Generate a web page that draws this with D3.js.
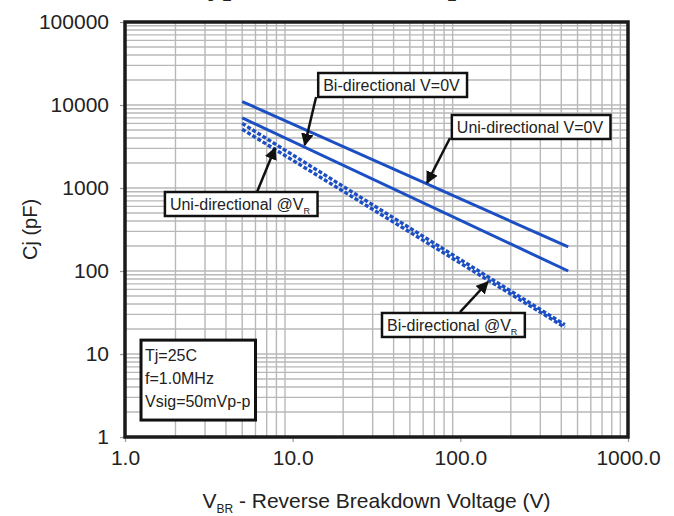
<!DOCTYPE html>
<html>
<head>
<meta charset="utf-8">
<script src="https://cdn.jsdelivr.net/npm/d3@7"></script>
<style>
  body { margin: 0; background: #fff; }
  text { font-family: "Liberation Sans", Arial, sans-serif; fill: #222; }
</style>
</head>
<body>
<div id="chart"></div>
<script>
// chart values
var xTicks = [1, 10, 100, 1000];
var xTickLabels = ["1.0", "10.0", "100.0", "1000.0"];
var yTicks = [1, 10, 100, 1000, 10000, 100000];
var yTickLabels = ["1", "10", "100", "1000", "10000", "100000"];

// each series: [V_BR, Cj] at the two ends of the drawn line
var biZero = [[5, 11000], [440, 195]];
var uniZero = [[5, 7000], [440, 100]];
var uniVR = [[5, 6000], [420, 22.5]];
var biVR = [[5, 5100], [420, 21]];

var seriesNames = ["Bi-directional V=0V", "Uni-directional V=0V", "Uni-directional @VR", "Bi-directional @VR"];
var seriesData = [biZero, uniZero, uniVR, biVR];
var seriesDashed = [false, false, true, true];

// callouts: text, box top-left [V, C], arrow from [V, C] to [V, C]
var callouts = [
  { main: "Bi-directional V=0V", sub: "", box: [14.2, 24300], from: [13.8, 12500], to: [11.8, 3300] },
  { main: "Uni-directional V=0V", sub: "", box: [89, 7580], from: [86.8, 4000], to: [63.3, 1150] },
  { main: "Uni-directional @V", sub: "R", box: [1.73, 895], from: [6.13, 895], to: [7.85, 3030] },
  { main: "Bi-directional @V", sub: "R", box: [34.1, 31.2], from: [99.5, 32], to: [146, 73.7] }
];
var conditions = ["Tj=25C", "f=1.0MHz", "Vsig=50mVp-p"];
var conditionsBox = [1.246, 14.7, 1.6];

var width = 674;
var height = 516;
var margin = { top: 22, right: 46, bottom: 79, left: 125 };

var svg = d3.select("#chart")
  .append("svg")
  .attr("width", width)
  .attr("height", height);

var x = d3.scaleLog().domain([1, 1000]).range([margin.left, width - margin.right]);
var y = d3.scaleLog().domain([1, 100000]).range([height - margin.bottom, margin.top]);

// title, cropped off at the top edge in the source picture
svg.append("text")
  .attr("x", 190)
  .attr("y", -5)
  .style("font-family", "'Liberation Serif', serif")
  .style("font-size", "30px")
  .style("font-weight", "bold")
  .text("Typical Junction Capacitance");

// grid
var xGrid = [];
var yGrid = [];
for (var d = 1; d < 1000; d *= 10) {
  for (var k = 2; k <= 9; k++) xGrid.push(d * k);
}
for (var e = 1; e < 100000; e *= 10) {
  for (var m = 1; m <= 9; m++) yGrid.push(e * m);
}
var grid = svg.append("g").attr("class", "grid");
grid.selectAll(".gx").data(xGrid).enter().append("line")
  .attr("x1", function(d) { return x(d); })
  .attr("x2", function(d) { return x(d); })
  .attr("y1", y(1)).attr("y2", y(100000))
  .attr("stroke", "#b8b8b8").attr("stroke-width", 1.4);
grid.selectAll(".gy").data(yGrid).enter().append("line")
  .attr("y1", function(d) { return y(d); })
  .attr("y2", function(d) { return y(d); })
  .attr("x1", x(1)).attr("x2", x(1000))
  .attr("stroke", "#b8b8b8").attr("stroke-width", 1.4);

// axes
var xAxis = d3.axisBottom(x).tickValues(xTicks)
  .tickFormat(function(d, i) { return xTickLabels[i]; })
  .tickSize(5).tickPadding(8);
var yAxis = d3.axisLeft(y).tickValues(yTicks)
  .tickFormat(function(d, i) { return yTickLabels[i]; })
  .tickSize(5).tickPadding(11);

var gx = svg.append("g")
  .attr("transform", "translate(0," + y(1) + ")")
  .call(xAxis);
var gy = svg.append("g")
  .attr("transform", "translate(" + x(1) + ",0)")
  .call(yAxis);
[gx, gy].forEach(function(g) {
  g.select(".domain").remove();
  g.selectAll(".tick line").attr("stroke", "#999").attr("stroke-width", 1.2);
  g.selectAll(".tick text")
    .style("font-family", "'Liberation Sans', Arial, sans-serif")
    .style("font-size", "21px")
    .attr("fill", "#222");
});

// series lines
var line = d3.line()
  .x(function(d) { return x(d[0]); })
  .y(function(d) { return y(d[1]); });

svg.append("g").selectAll("path")
  .data(seriesData)
  .enter().append("path")
  .attr("d", line)
  .attr("fill", "none")
  .attr("stroke", "#1c4fc4")
  .attr("stroke-width", function(d, i) { return seriesDashed[i] ? 3.4 : 3; })
  .attr("stroke-dasharray", function(d, i) { return seriesDashed[i] ? "4,2" : null; })
  .append("title").text(function(d, i) { return seriesNames[i]; });

// frame
svg.append("rect")
  .attr("x", x(1)).attr("y", y(100000))
  .attr("width", x(1000) - x(1))
  .attr("height", y(1) - y(100000))
  .attr("fill", "none")
  .attr("stroke", "#1a1a1a")
  .attr("stroke-width", 3.5);

// arrow marker
svg.append("defs").append("marker")
  .attr("id", "arrow")
  .attr("viewBox", "0 0 10 10")
  .attr("refX", 9).attr("refY", 5)
  .attr("markerWidth", 5).attr("markerHeight", 5)
  .attr("markerUnits", "strokeWidth")
  .attr("orient", "auto")
  .append("path")
  .attr("d", "M0,0L10,5L0,10z")
  .attr("fill", "#111");

// callouts
var pad = 5;
callouts.forEach(function(c) {
  svg.append("line")
    .attr("x1", x(c.from[0])).attr("y1", y(c.from[1]))
    .attr("x2", x(c.to[0])).attr("y2", y(c.to[1]))
    .attr("stroke", "#111").attr("stroke-width", 2.5)
    .attr("marker-end", "url(#arrow)");

  var g = svg.append("g");
  var bx = x(c.box[0]);
  var by = y(c.box[1]);
  var rect = g.append("rect").attr("fill", "#fff").attr("stroke", "#111").attr("stroke-width", 2.5);
  var t = g.append("text")
    .attr("x", bx + pad)
    .attr("y", by + 18)
    .style("font-size", "16px")
    .text(c.main);
  if (c.sub) {
    t.append("tspan").attr("dy", 4).style("font-size", "9px").text(c.sub);
  }
  var bb = t.node().getBBox();
  rect.attr("x", bx).attr("y", by)
    .attr("width", bb.width + 2 * pad + 2)
    .attr("height", 24);
});

// test conditions box
var cx0 = x(conditionsBox[0]);
var cy0 = y(conditionsBox[1]);
var cy1 = y(conditionsBox[2]);
var cg = svg.append("g");
var crect = cg.append("rect").attr("fill", "#fff").attr("stroke", "#111").attr("stroke-width", 3);
var ctext = cg.selectAll("text").data(conditions).enter().append("text")
  .attr("x", cx0 + 4)
  .attr("y", function(d, i) { return cy0 + 21 + i * 23; })
  .style("font-size", "16px")
  .text(function(d) { return d; });
var cw = d3.max(ctext.nodes(), function(n) { return n.getBBox().width; });
crect.attr("x", cx0).attr("y", cy0).attr("width", cw + 9).attr("height", cy1 - cy0);

// axis titles
svg.append("text")
  .attr("transform", "translate(37," + ((y(1) + y(100000)) / 2) + ") rotate(-90)")
  .attr("text-anchor", "middle")
  .style("font-size", "20px")
  .text("Cj (pF)");

var xt = svg.append("text")
  .attr("x", (x(1) + x(1000)) / 2)
  .attr("y", height - 8)
  .attr("text-anchor", "middle")
  .style("font-size", "21px");
xt.append("tspan").text("V");
xt.append("tspan").attr("dy", 5).style("font-size", "12px").text("BR");
xt.append("tspan").attr("dy", -5).text(" - Reverse Breakdown Voltage (V)");
</script>
</body>
</html>
